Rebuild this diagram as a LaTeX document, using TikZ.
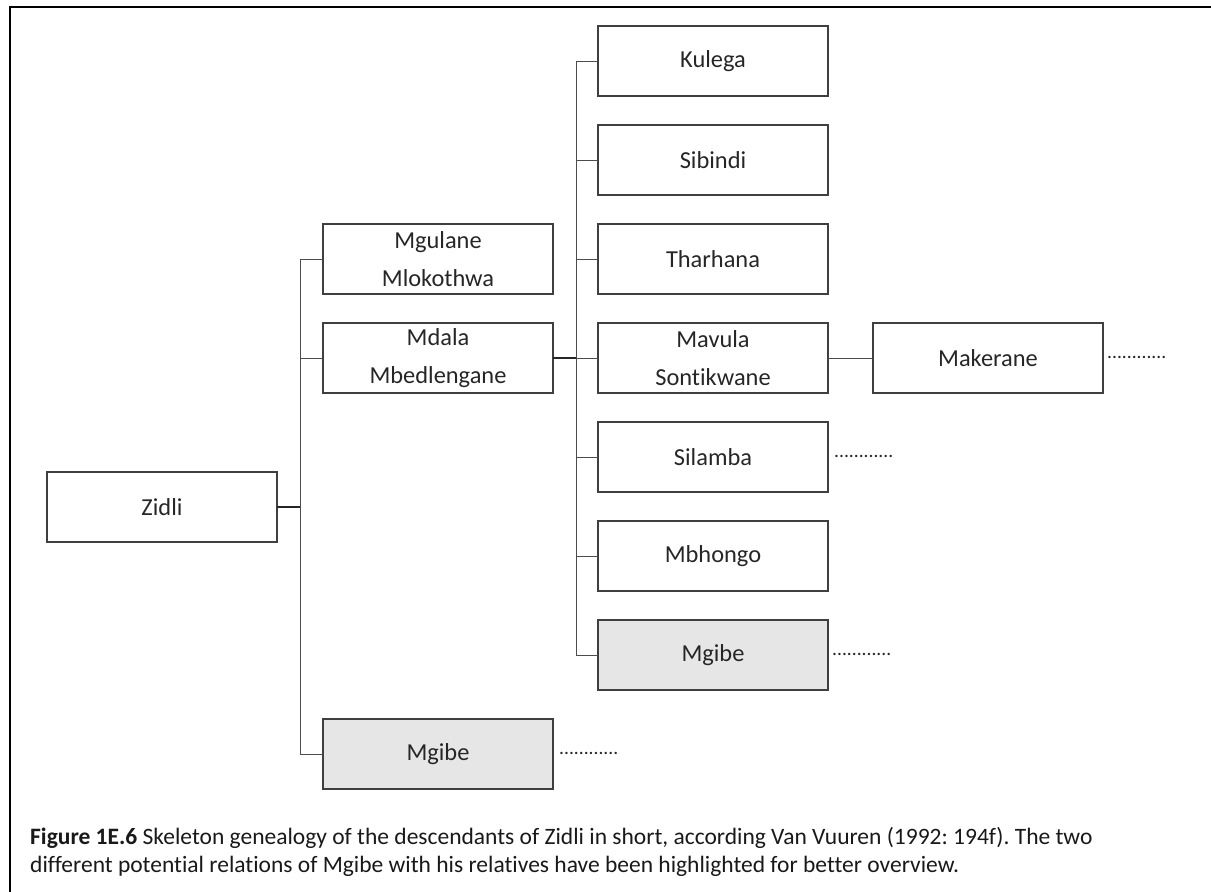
\documentclass[tikz,border=0pt]{standalone}
\usepackage{fontspec}
\setmainfont{Carlito}[Ligatures=NoCommon]
\usetikzlibrary{positioning}
\definecolor{boxline}{HTML}{3F3F3F}
\definecolor{hilite}{HTML}{E7E6E6}
\tikzset{
  person/.style={draw=boxline,line width=1.2pt,outer sep=0pt,inner sep=0pt,minimum width=230pt,minimum height=70pt,align=center,text=black!85,font=\fontsize{24.4}{38}\selectfont},
  marked/.style={person,fill=hilite},
  link/.style={draw=black!70,line width=1pt},
  stub/.style={link,draw=black!85,line width=1.8pt},
  figframe/.style={draw=black,line width=2.2pt},
  dots/.style={inner sep=0pt,text=black!85,font=\fontsize{19.5}{20}\selectfont},
  caption/.style={inner sep=0pt,align=left,text=black!90,font=\fontsize{23.5}{28}\selectfont}
}
\frenchspacing

\begin{document}
\begin{tikzpicture}[x=1pt,y=-1pt,node distance=29pt and 45pt]
  \useasboundingbox (0,0) rectangle (1211,892);
  \draw[figframe] (10,892) -- (10,7) -- (1211,7);
  % children of Mdala
  \node[person] (kulega) at (713,61) {Kulega};
  \node[person,below=of kulega] (sibindi) {Sibindi};
  \node[person,below=of sibindi] (tharhana) {Tharhana};
  \node[person,below=of tharhana] (mavula) {Mavula\\Sontikwane};
  \node[person,below=of mavula] (silamba) {Silamba};
  \node[person,below=of silamba] (mbhongo) {Mbhongo};
  \node[marked,below=of mbhongo] (mgibeB) {Mgibe};
  \node[person,right=of mavula] (makerane) {Makerane};
  % children of Zidli
  \node[person,left=of mavula] (mdala) {Mdala\\Mbedlengane};
  \node[person,above=of mdala] (mgulane) {Mgulane\\Mlokothwa};
  \node[marked,below=326pt of mdala] (mgibeA) {Mgibe};
  \node[person] (zidli) at (162,507) {Zidli};
  % open lines
  \node[dots,right=6pt of silamba,anchor=base west] (silambamore) {............};
  \node[dots,right=4pt of makerane,anchor=base west] (makeranemore) {............};
  \node[dots,right=4pt of mgibeB,anchor=base west] (mgibeBmore) {............};
  \node[dots,right=6pt of mgibeA,anchor=base west] (mgibeAmore) {............};
  % connectors
  \draw[stub] (zidli.east) -- ++(23pt,0pt);
  \draw[link] (mgulane.west) -- ++(-23pt,0pt) |- (mgibeA.west);
  \draw[link] (mdala.west) -- ++(-23pt,0pt);
  \draw[stub] (mdala.east) -- ++(23pt,0pt);
  \draw[link] (kulega.west) -- ++(-22pt,0pt) |- (mgibeB.west);
  \foreach \kid in {sibindi,tharhana,mavula,silamba,mbhongo}
    \draw[link] (\kid.west) -- ++(-22pt,0pt);
  \draw[link] (mavula) -- (makerane);
  % caption
  \node[caption,anchor=west] (figcaption) at (30,852) {\textbf{Figure 1E.6} Skeleton genealogy of the descendants of Zidli in short, according Van Vuuren (1992: 194f). The two\\different potential relations of Mgibe with his relatives have been highlighted for better overview.};
\end{tikzpicture}
\end{document}
